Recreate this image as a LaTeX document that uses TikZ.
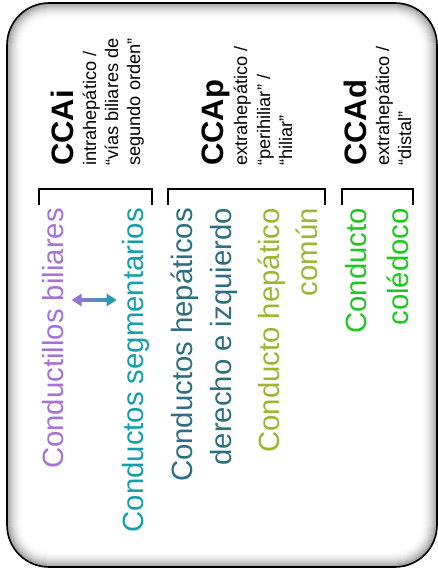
\documentclass[tikz,border=0pt]{standalone}
\usepackage{fontspec}
\setmainfont{Liberation Sans}
\definecolor{cpurple}{RGB}{165,115,215}
\definecolor{cteal}{RGB}{20,160,170}
\definecolor{cdteal}{RGB}{45,110,130}
\definecolor{colive}{RGB}{160,180,50}
\definecolor{cgreen}{RGB}{30,200,30}
\begin{document}
\begin{tikzpicture}[x=1pt,y=-1pt,
  bodytxt/.style={rotate=90, inner sep=0pt, anchor=base east, font=\fontsize{29.3}{34}\selectfont},
  titletxt/.style={rotate=90, inner sep=0pt, anchor=base west, font=\fontsize{31}{36}\selectfont\bfseries},
  subtxt/.style={rotate=90, inner sep=0pt, anchor=base west, font=\fontsize{18.2}{21}\selectfont},
  bracketline/.style={line width=1.8pt, black}]
\useasboundingbox (0,0) rectangle (438,572);
% frame with inner shadow
\fill[white, rounded corners=42pt] (7,3) rectangle (437,567);
\begin{scope}
\clip[rounded corners=42pt] (7,3) rectangle (437,567);
\foreach \i in {0,...,16}{
  \pgfmathsetmacro\g{45*(1-\i/17)^2}
  \pgfmathsetmacro\r{42-\i}
  \draw[black!\g, line width=1.3pt, rounded corners=\r pt] (7+\i,3+\i) rectangle (437-\i,567-\i);
}
\end{scope}
\draw[black, line width=1.6pt, rounded corners=42pt] (7,3) rectangle (437,567);
% headers
\node[titletxt] (ti) at (73,166) {CCAi};
\node[subtxt] (ti1) at (96,166) {intrahepático /};
\node[subtxt] (ti2) at (118,166) {“vías biliares de};
\node[subtxt] (ti3) at (140,166) {segundo orden”};
\node[titletxt] (tp) at (223,166) {CCAp};
\node[subtxt] (tp1) at (247,166) {extrahepático /};
\node[subtxt] (tp2) at (270,166) {“perihiliar” /};
\node[subtxt] (tp3) at (292,166) {“hiliar”};
\node[titletxt] (td) at (366,166) {CCAd};
\node[subtxt] (td1) at (389,166) {extrahepático /};
\node[subtxt] (td2) at (411,166) {“distal”};
% brackets
\draw[bracketline] (39.3,205) -- (39.3,189.3) -- (152.3,189.3) -- (152.3,205);
\draw[bracketline] (168.3,205) -- (168.3,189.3) -- (325,189.3) -- (325,205);
\draw[bracketline] (341.7,205) -- (341.7,189.3) -- (413.3,189.3) -- (413.3,205);
% body texts
\node[bodytxt, cpurple] (b1) at (63,208) {Conductillos biliares};
\node[bodytxt, cteal] (b2) at (143,208) {Conductos segmentarios};
\node[bodytxt, cdteal] (b3) at (192,208) {Conductos hepáticos};
\node[bodytxt, cdteal] (b4) at (231,208) {derecho e izquierdo};
\node[bodytxt, colive] (b5) at (279,208) {Conducto hepático};
\node[bodytxt, colive] (b6) at (317,208) {común};
\node[bodytxt, cgreen] (b7) at (366,208) {Conducto};
\node[bodytxt, cgreen] (b8) at (408,208) {colédoco};
% double arrow
\coordinate (aL) at (71.7,300);
\coordinate (aR) at (116.5,300);
\shade[left color=cpurple, right color=cteal]
  (aL) -- ++(10,-6.5) -- ++(0,4.7) -- ++(24.8,0) -- ++(0,-4.7) -- (aR)
  -- ++(-10,6.5) -- ++(0,-4.7) -- ++(-24.8,0) -- ++(0,4.7) -- cycle;
\end{tikzpicture}
\end{document}
